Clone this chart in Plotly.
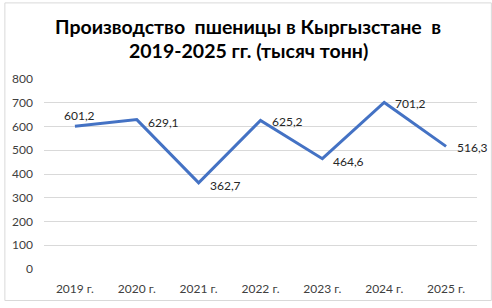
import plotly.graph_objects as go

years = ["2019 г.", "2020 г.", "2021 г.", "2022 г.", "2023 г.", "2024 г.", "2025 г."]
values = [601.2, 629.1, 362.7, 625.2, 464.6, 701.2, 516.3]
labels = ["601,2", "629,1", "362,7", "625,2", "464,6", "701,2", "516,3"]
title_lines = ["Производство  пшеницы в Кыргызстане  в", "2019-2025 гг. (тысяч тонн)"]

W, H = 492, 308
ML, MR, MT, MB = 40, 15, 79, 33
PW, PH = W - ML - MR, H - MT - MB
FONT = "Lato, Open Sans, sans-serif"

fig = go.Figure()
fig.add_trace(go.Scatter(
    x=years, y=values, mode="lines",
    line=dict(color="#4472C4", width=3),
    hoverinfo="skip", showlegend=False,
))

for i, (x, y, t) in enumerate(zip(years, values, labels)):
    if i == 0:
        fig.add_annotation(x=x, y=y, text=t, showarrow=False, xanchor="center",
                           yanchor="bottom", xshift=5, yshift=1,
                           font=dict(family=FONT, size=12, color="#262626"))
    else:
        fig.add_annotation(x=x, y=y, text=t, showarrow=False, xanchor="left",
                           yanchor="middle", xshift=9, yshift=-3 if i in (1, 2, 4) else -1,
                           font=dict(family=FONT, size=12, color="#262626"))

for k, (line, cy) in enumerate(zip(title_lines, [25, 50])):
    fig.add_annotation(
        xref="paper", yref="paper", x=0.5 - (ML - MR) / 2 / PW, y=1 + (MT - cy) / PH,
        text="<b>" + line + "</b>", showarrow=False, xanchor="center", yanchor="middle",
        font=dict(family=FONT, size=19.5, color="#000000"),
    )

fig.update_layout(
    width=W, height=H,
    margin=dict(l=ML, r=MR, t=MT, b=MB, pad=0),
    paper_bgcolor="white", plot_bgcolor="white",
    font=dict(family=FONT, size=12, color="#404040"),
    xaxis=dict(
        type="category", range=[-0.5, 6.5], showgrid=False, zeroline=False,
        showline=False, ticks="", tickfont=dict(size=12, color="#404040"),
        ticklabelstandoff=11,
    ),
    yaxis=dict(
        range=[0, 800], dtick=100, tick0=0, showgrid=True, gridcolor="#D9D9D9",
        gridwidth=1, zeroline=False, showline=False, ticks="",
        tickfont=dict(size=12, color="#404040"), ticklabelstandoff=10,
    ),
    shapes=[dict(
        type="rect", xref="paper", yref="paper",
        x0=-(ML - 0.5) / PW, x1=1 + (MR - 0.5) / PW,
        y0=-(MB - 0.5) / PH, y1=1 + (MT - 0.5) / PH,
        line=dict(color="#D9D9D9", width=1), fillcolor="rgba(0,0,0,0)", layer="below",
    )],
)

fig.write_html("out.html")
